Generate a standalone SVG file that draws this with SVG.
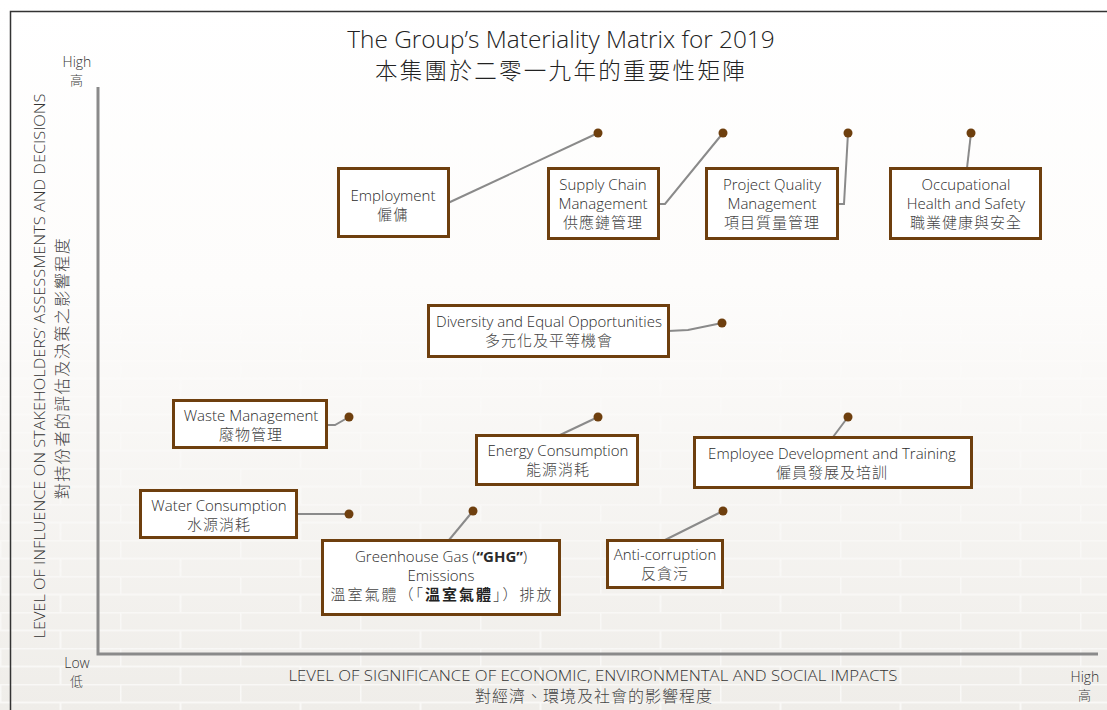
<svg xmlns="http://www.w3.org/2000/svg" width="1107" height="710" viewBox="0 0 1107 710">
<defs>
<linearGradient id="bg" x1="0" y1="0" x2="0" y2="1">
<stop offset="0" stop-color="#ffffff"/>
<stop offset="0.4" stop-color="#fdfcfb"/>
<stop offset="1" stop-color="#efede9"/>
</linearGradient>
<linearGradient id="fade" x1="0" y1="0" x2="0" y2="1">
<stop offset="0" stop-color="#fff" stop-opacity="0"/>
<stop offset="1" stop-color="#fff" stop-opacity="1"/>
</linearGradient>
<mask id="m"><rect x="0" y="250" width="1107" height="460" fill="url(#fade)"/></mask>
<pattern id="brick" x="0" y="0" width="120" height="36" patternUnits="userSpaceOnUse">
<path d="M0 0.5H120M0 18.5H120M0.5 0V18M60.5 18V36" fill="none" stroke="#ffffff" stroke-width="2"/>
</pattern>
<style>
.box{fill:#ffffff;stroke:#6e3f0e;stroke-width:3}
.t{font-family:"Open Sans","Noto Sans CJK TC",sans-serif;font-size:15px;fill:#2b2b2b;text-anchor:middle;font-weight:300}
.c{font-family:"Noto Sans CJK TC","Noto Sans",sans-serif;font-size:15px;letter-spacing:1px;fill:#444;text-anchor:middle;font-weight:300}
.ln{fill:none;stroke:#8a8a8a;stroke-width:2}
.dot{fill:#6e3f0e}
.ax{font-family:"Open Sans","Noto Sans CJK TC",sans-serif;font-size:14px;fill:#333;text-anchor:middle;font-weight:300}
</style>
</defs>
<rect x="0" y="0" width="1107" height="710" fill="url(#bg)"/>
<rect x="0" y="250" width="1107" height="460" fill="url(#brick)" mask="url(#m)" opacity="0.6"/>
<rect x="10.5" y="11.5" width="1110" height="710" fill="none" stroke="#333" stroke-width="1.5"/>

<g id="title">
<text x="561" y="48" class="t" style="font-size:24.4px;fill:#222">The Group’s Materiality Matrix for 2019</text>
<text x="561" y="79" class="c" style="font-size:22.5px;letter-spacing:2.3px;fill:#222">本集團於二零一九年的重要性矩陣</text>
</g>

<g id="axes">
<polyline points="98,87 98,654 1098,654" fill="none" stroke="#8a8a8a" stroke-width="3"/>
<text x="77" y="67" class="ax">High</text>
<text x="77" y="85" class="c" style="font-size:13px">高</text>
<text x="77" y="668" class="ax">Low</text>
<text x="77" y="686" class="c" style="font-size:13px">低</text>
<text x="1085" y="682" class="ax">High</text>
<text x="1085" y="700" class="c" style="font-size:13px">高</text>
<text x="593" y="681" class="ax" style="font-size:15px" textLength="609" lengthAdjust="spacingAndGlyphs">LEVEL OF SIGNIFICANCE OF ECONOMIC, ENVIRONMENTAL AND SOCIAL IMPACTS</text>
<text x="594" y="702" class="c" style="font-size:16px;letter-spacing:1px">對經濟、環境及社會的影響程度</text>
<text transform="translate(45,366) rotate(-90)" class="ax" style="font-size:15px" textLength="545" lengthAdjust="spacingAndGlyphs">LEVEL OF INFLUENCE ON STAKEHOLDERS’ ASSESSMENTS AND DECISIONS</text>
<text transform="translate(68,368) rotate(-90)" class="c" style="font-size:16px;letter-spacing:1.5px">對持份者的評估及決策之影響程度</text>
</g>

<g id="connectors">
<polyline class="ln" points="448,203 598,133"/>
<polyline class="ln" points="658,204 665,204 723,133"/>
<polyline class="ln" points="837,204 844,204 848,133"/>
<polyline class="ln" points="967,168 971,133"/>
<polyline class="ln" points="668,331 688,330 722,323"/>
<polyline class="ln" points="326,425 335,425 349,417"/>
<polyline class="ln" points="560,435 598,417"/>
<polyline class="ln" points="833,437 848,417"/>
<polyline class="ln" points="296,514 349,514"/>
<polyline class="ln" points="449,540 473,511"/>
<polyline class="ln" points="665,540 723,511"/>
<circle class="dot" cx="598" cy="133" r="4.5"/>
<circle class="dot" cx="723" cy="133" r="4.5"/>
<circle class="dot" cx="848" cy="133" r="4.5"/>
<circle class="dot" cx="971" cy="133" r="4.5"/>
<circle class="dot" cx="722" cy="323" r="4.5"/>
<circle class="dot" cx="349" cy="417" r="4.5"/>
<circle class="dot" cx="598" cy="417" r="4.5"/>
<circle class="dot" cx="848" cy="417" r="4.5"/>
<circle class="dot" cx="349" cy="514" r="4.5"/>
<circle class="dot" cx="473" cy="511" r="4.5"/>
<circle class="dot" cx="723" cy="511" r="4.5"/>
</g>

<g id="employment">
<rect class="box" x="338.5" y="168.5" width="110" height="68"/>
<text x="393" y="201" class="t">Employment</text>
<text x="393" y="220" class="c">僱傭</text>
</g>
<g id="supply-chain">
<rect class="box" x="548.5" y="168.5" width="110" height="70"/>
<text x="603" y="190" class="t">Supply Chain</text>
<text x="603" y="209" class="t">Management</text>
<text x="603" y="228" class="c">供應鏈管理</text>
</g>
<g id="project-quality">
<rect class="box" x="706.5" y="168.5" width="131" height="70"/>
<text x="772" y="190" class="t">Project Quality</text>
<text x="772" y="209" class="t">Management</text>
<text x="772" y="228" class="c">項目質量管理</text>
</g>
<g id="ohs">
<rect class="box" x="890.5" y="168.5" width="150" height="70"/>
<text x="966" y="190" class="t">Occupational</text>
<text x="966" y="209" class="t">Health and Safety</text>
<text x="966" y="228" class="c">職業健康與安全</text>
</g>
<g id="diversity">
<rect class="box" x="428.5" y="305.5" width="240" height="51"/>
<text x="549" y="327" class="t">Diversity and Equal Opportunities</text>
<text x="549" y="346" class="c">多元化及平等機會</text>
</g>
<g id="waste">
<rect class="box" x="173.5" y="400.5" width="153" height="47"/>
<text x="251" y="421" class="t">Waste Management</text>
<text x="251" y="440" class="c">廢物管理</text>
</g>
<g id="energy">
<rect class="box" x="476.5" y="435.5" width="161" height="49"/>
<text x="558" y="456" class="t">Energy Consumption</text>
<text x="558" y="475" class="c">能源消耗</text>
</g>
<g id="employee-dev">
<rect class="box" x="694.5" y="437.5" width="277" height="50"/>
<text x="832" y="459" class="t">Employee Development and Training</text>
<text x="832" y="478" class="c">僱員發展及培訓</text>
</g>
<g id="water">
<rect class="box" x="140.5" y="490.5" width="156" height="47"/>
<text x="219" y="511" class="t">Water Consumption</text>
<text x="219" y="530" class="c">水源消耗</text>
</g>
<g id="ghg">
<rect class="box" x="322.5" y="540.5" width="237" height="74"/>
<text x="441" y="562" class="t">Greenhouse Gas (<tspan style="font-weight:700">“GHG”</tspan>)</text>
<text x="441" y="581" class="t">Emissions</text>
<text x="442" y="600" class="c" style="letter-spacing:2px">溫室氣體（「<tspan style="font-weight:700;fill:#222">溫室氣體</tspan>」）排放</text>
</g>
<g id="anti-corruption">
<rect class="box" x="607.5" y="540.5" width="115" height="47"/>
<text x="665" y="560" class="t">Anti-corruption</text>
<text x="665" y="579" class="c">反貪污</text>
</g>
</svg>
